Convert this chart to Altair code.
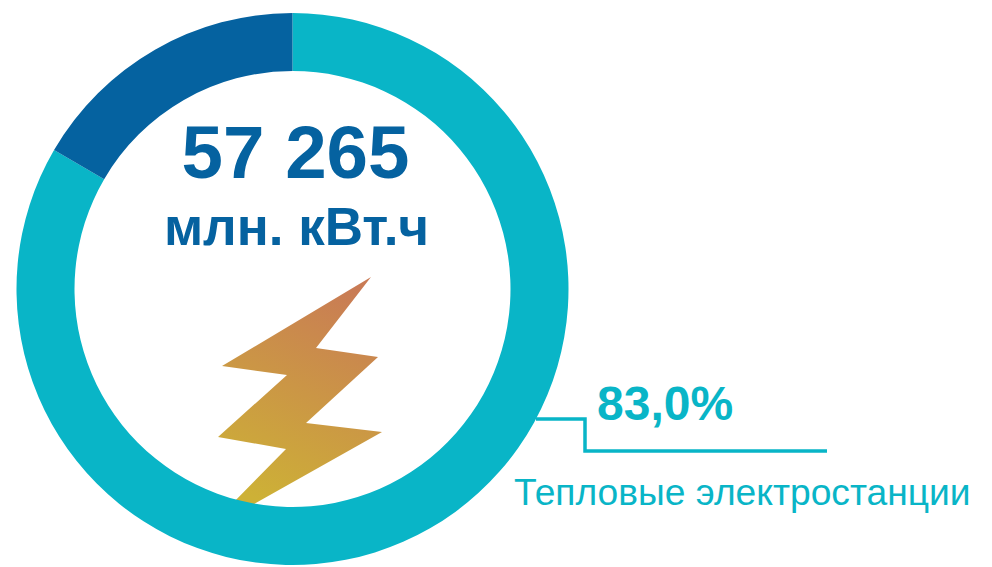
import altair as alt
import pandas as pd

W, H = 976, 559
OFF = 8  # page margin: reference pixel coordinates are offset by this

# ---- values ----
shares = [83.4, 16.6]
names = ["Тепловые электростанции", "Прочие"]
order_idx = [1, 2]
TEAL, BLUE = "#09b5c7", "#0562a0"

total_label = "57 265"
unit_label = "млн. кВт.ч"
pct_label = "83,0%"
cat_label = "Тепловые электростанции"

leader_x = [536, 585, 585, 827]
leader_y = [419, 419, 451, 451]

bolt_pts = [(371, 277), (316, 348), (378, 357), (306, 423), (382, 432),
            (247, 508), (228, 508), (286, 449), (218, 437), (287, 375), (222, 366)]

CX, CY, R_OUT, R_IN = 292.5, 289, 276, 218

xs = alt.Scale(domain=[OFF, W + OFF], range=[0, W])
ys = alt.Scale(domain=[OFF, H + OFF], range=[0, H])
X = lambda f: alt.X(f, type="quantitative", scale=xs, axis=None)
Y = lambda f: alt.Y(f, type="quantitative", scale=ys, axis=None)

# lightning bolt: one symbol whose path is expressed around its centre
bx, by = 300, 390
path = "M" + " L".join(f"{x - bx} {y - by}" for x, y in bolt_pts) + " Z"
bolt = alt.Chart(pd.DataFrame({"x": [bx], "y": [by]})).mark_point(
    shape=path, size=4, filled=True, opacity=1, strokeWidth=0,
    fill=alt.Gradient(gradient="linear", x1=0.7, y1=0, x2=0.35, y2=1,
                      stops=[alt.GradientStop(offset=0, color="#c97b55"),
                             alt.GradientStop(offset=1, color="#cdb136")]),
).encode(x=X("x"), y=Y("y"))

ring = alt.Chart(pd.DataFrame({"name": names, "share": shares, "o": order_idx})).mark_arc(
    innerRadius=R_IN, outerRadius=R_OUT
).encode(
    theta=alt.Theta("share:Q", stack=True, scale=alt.Scale(domain=[0, 100])),
    order=alt.Order("o:Q"),
    color=alt.Color("name:N", scale=alt.Scale(domain=names, range=[TEAL, BLUE]), legend=None),
    x=alt.value(CX - OFF),
    y=alt.value(CY - OFF),
)

leader = alt.Chart(pd.DataFrame({"x": leader_x, "y": leader_y, "i": range(4)})).mark_line(
    color=TEAL, strokeWidth=3.5, interpolate="linear", strokeJoin="miter"
).encode(x=X("x"), y=Y("y"), order="i:Q")

def text(label, x, y, size, color, bold=True, align="center"):
    return alt.Chart(pd.DataFrame({"x": [x], "y": [y], "t": [label]})).mark_text(
        font="Liberation Sans", fontSize=size, fontWeight="bold" if bold else "normal",
        color=color, align=align, baseline="alphabetic",
    ).encode(x=X("x"), y=Y("y"), text="t:N")

labels = [
    text(total_label, 295.5, 178, 74.5, BLUE),
    text(unit_label, 296.5, 245, 53, BLUE),
    text(pct_label, 597, 420, 48, TEAL, align="left"),
    text(cat_label, 514, 505, 37.2, TEAL, bold=False, align="left"),
]

chart = alt.layer(bolt, ring, leader, *labels).resolve_scale(theta="independent").properties(
    width=W, height=H, padding=0, autosize=alt.AutoSizeParams(type="none"),
    background="white",
).configure_view(strokeWidth=0)

chart.save("out.html", embed_options={"renderer": "svg", "actions": False})
